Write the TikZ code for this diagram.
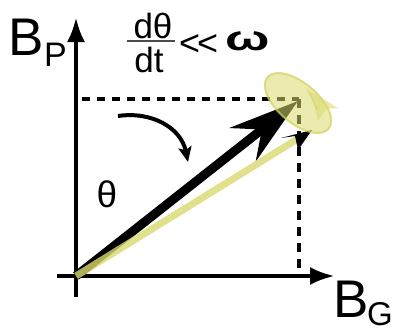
\documentclass[tikz,border=0pt]{standalone}
\usepackage{fontspec}
\setmainfont{Liberation Sans}
\usetikzlibrary{arrows.meta}
\definecolor{yel}{RGB}{218,218,112}
\definecolor{yeledge}{RGB}{210,210,95}
\begin{document}
\begin{tikzpicture}[x=1pt,y=-1pt,
  axisline/.style={line width=4.5pt,-{Latex[length=25pt,width=18pt]}},
  dashline/.style={line width=3.5pt,dash pattern=on 8pt off 7pt},
  lbl/.style={inner sep=0pt,anchor=base west},
  bigfont/.style={font=\fontsize{53pt}{53pt}\selectfont},
  subfont/.style={font=\fontsize{34pt}{34pt}\selectfont},
  midfont/.style={font=\fontsize{35pt}{35pt}\selectfont}]
\useasboundingbox (0,0) rectangle (397,333);
% coordinates
\coordinate (O) at (76,276);
\coordinate (T) at (298,101);
\coordinate (Y) at (312,130);
\coordinate (E) at (298,103);
\coordinate (Ptop) at (76,17);
\coordinate (Pbot) at (76,297);
\coordinate (Gl) at (57,276);
\coordinate (Gr) at (335,276);
\coordinate (HD) at (82,99);
\coordinate (C) at (299,99);
\coordinate (VD) at (299,272);
\coordinate (Cs) at (118,116);
\coordinate (Ce) at (188,162);
% dashed projections
\draw[dashline] (HD) -- (C);
\draw[dashline,dash pattern=on 9pt off 7pt] (C) -- (VD);
% axes
\draw[axisline] (Pbot) -- (Ptop);
\draw[axisline] (Gl) -- (Gr);
% black vector
\draw[line width=9pt,-{Stealth[length=70pt,width=42pt,inset=24pt]}] (O) -- (T);
% yellow vector
\draw[line width=7pt,yel,opacity=0.8,shorten >=14pt] (O) -- (Y);
\fill[black] (Y) -- ++(-31,8) -- ++(14,-2) -- ++(3,14) -- cycle;
% precession ellipse
\filldraw[yel,draw=yeledge,line width=2pt,fill opacity=0.55,draw opacity=0.7,rotate around={-40:(E)}]
  (E) ellipse [x radius=40, y radius=20];
\fill[yel,opacity=0.6] (305,88) -- (338,108) -- (326,109) -- (318,121) -- (314,104) -- cycle;
\draw[yeledge,line width=1pt,opacity=0.6] (310,93) -- (317,110);
% rotation arrow
\draw[line width=4pt,-{Stealth[length=15pt,width=13pt,inset=3pt]}]
  (Cs) .. controls (152,111) and (181,128) .. (Ce);
% labels
\node[lbl,bigfont] (bp) at (8,55) {B};
\node[lbl,subfont] (bps) at (44,66) {P};
\node[lbl,bigfont,text depth=0pt] (bg) at (333,317) {B};
\node[lbl,font=\fontsize{33pt}{33pt}\selectfont,text depth=0pt] (bgs) at (367,325) {G};
\node[inner sep=0pt,anchor=base,midfont] (num) at (153,38) {dθ};
\node[inner sep=0pt,anchor=base,midfont] (den) at (149,72) {dt};
\draw[line width=1.5pt,black!70] (127,41) -- (175,41);
\node[lbl,font=\fontsize{36pt}{36pt}\selectfont] (ll) at (179,55) {<\kern-3pt<};
\node[lbl,font=\bfseries\fontsize{35pt}{35pt}\selectfont] (om) at (225,50) {\scalebox{1.5}[1]{ω}};
\node[inner sep=0pt,anchor=base,font=\fontsize{37pt}{37pt}\selectfont] (th) at (107,207) {θ};
\end{tikzpicture}
\end{document}
